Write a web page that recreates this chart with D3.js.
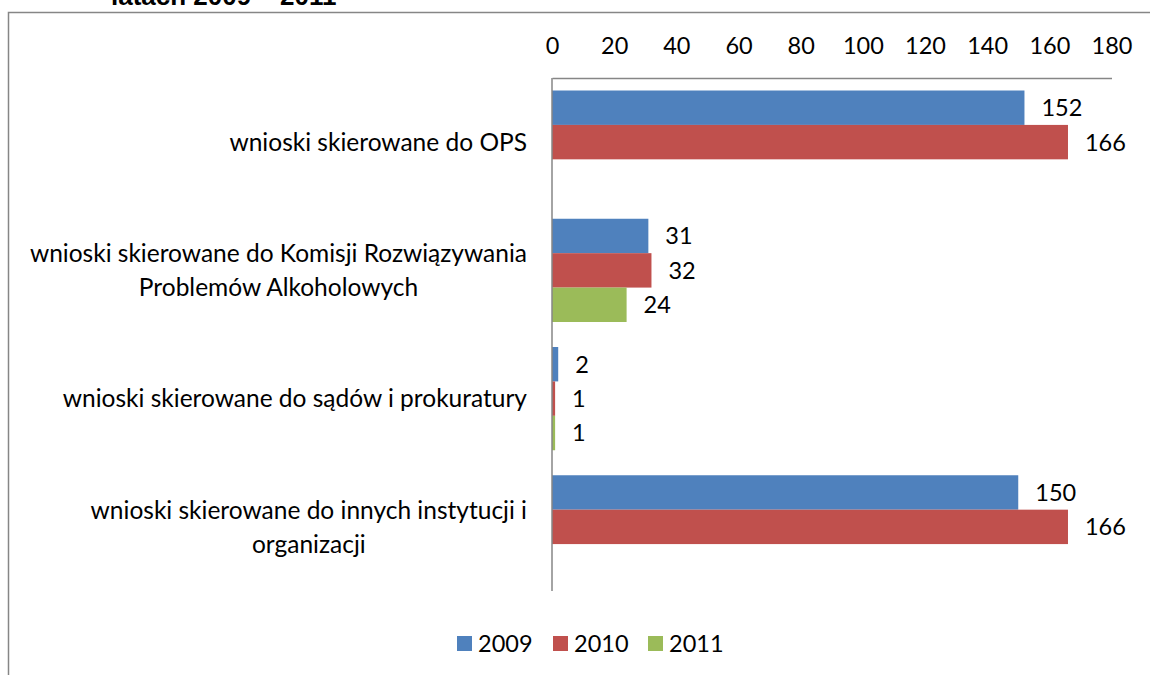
<!doctype html>
<html>
  <head>
    <meta charset="utf-8">
    <script src="https://cdnjs.cloudflare.com/ajax/libs/d3/7.8.5/d3.min.js"></script>
    <style>
      body { margin: 0; background: #fff; overflow: hidden; }
      svg { display: block; }
      text { font-family: Lato, "Noto Sans", sans-serif; fill: #000; }
      .title { font-family: "Liberation Sans", Arial, sans-serif; font-weight: bold; }
      .axis path.domain { stroke: #868686; stroke-width: 1.5; }
      .axis line { display: none; }
    </style>
  </head>
  <body>
    <svg width="1150" height="675"></svg>
    <script>
      // categories, lines split by "|"
      var categories = [
        "wnioski skierowane do OPS",
        "wnioski skierowane do Komisji Rozwiązywania|Problemów Alkoholowych",
        "wnioski skierowane do sądów i prokuratury",
        "wnioski skierowane do innych instytucji i|organizacji"
      ];
      var years = ["2009", "2010", "2011"];
      var values2009 = [152, 31, 2, 150];
      var values2010 = [166, 32, 1, 166];
      var values2011 = [null, 24, 1, null];
      var xTicks = [0, 20, 40, 60, 80, 100, 120, 140, 160, 180];
      var colors = ["#4F81BD", "#C0504D", "#9BBB59"];

      var seriesValues = [values2009, values2010, values2011];
      var fontSize = 23.5;
      var labelFontSize = 24.5;

      var svg = d3.select("svg");

      // chart frame, only top and left edges are inside the picture
      svg.append("path")
        .attr("d", "M8.5,675V12.5H1150")
        .attr("fill", "none")
        .attr("stroke", "#868686")
        .attr("stroke-width", 1.5);

      svg.append("text")
        .attr("class", "title")
        .attr("x", 111).attr("y", 5)
        .style("font-size", "26px")
        .text("latach 2009 – 2011");

      var x = d3.scaleLinear().domain([0, 180]).range([552, 1111.5]);
      var y = d3.scaleBand().domain(d3.range(categories.length))
        .range([78, 591]).paddingInner(0.195).paddingOuter(0.0975);
      var ySub = d3.scaleBand().domain(d3.range(years.length)).range([0, y.bandwidth()]);

      var xAxis = d3.axisTop(x).tickValues(xTicks).tickSize(0).tickPadding(24);
      svg.append("g")
        .attr("class", "axis")
        .attr("transform", "translate(0,78)")
        .call(xAxis)
        .call(g => g.selectAll("text")
          .style("font-family", "Lato, sans-serif")
          .style("font-size", fontSize + "px")
          .attr("fill", "#000"));

      var groups = svg.append("g").selectAll("g")
        .data(categories)
        .join("g")
          .attr("transform", (d, i) => "translate(0," + y(i) + ")");

      groups.each(function (cat, ci) {
        var g = d3.select(this);
        var bars = years.map((yr, si) => ({ si: si, v: seriesValues[si][ci] }))
          .filter(d => d.v != null);

        g.selectAll("rect")
          .data(bars)
          .join("rect")
            .attr("x", x(0))
            .attr("y", d => ySub(d.si))
            .attr("width", d => x(d.v) - x(0))
            .attr("height", ySub.bandwidth())
            .attr("fill", d => colors[d.si]);

        g.selectAll("text.val")
          .data(bars)
          .join("text")
            .attr("class", "val")
            .attr("x", d => x(d.v) + 17)
            .attr("y", d => ySub(d.si) + ySub.bandwidth() / 2)
            .attr("dy", "0.36em")
            .style("font-size", fontSize + "px")
            .text(d => d.v);

        // category label, lines centred on each other, block ends 25px left of axis
        var lines = cat.split("|");
        var label = g.append("text")
          .style("font-size", labelFontSize + "px")
          .attr("text-anchor", "middle");
        var lineH = 34;
        var cy = y.bandwidth() / 2;
        lines.forEach((ln, li) => {
          label.append("tspan")
            .attr("y", cy + (li - (lines.length - 1) / 2) * lineH)
            .attr("dy", "0.36em")
            .text(ln);
        });
        var maxW = d3.max(label.selectAll("tspan").nodes(), n => n.getComputedTextLength());
        label.selectAll("tspan").attr("x", x(0) - 25 - maxW / 2);
      });

      // value axis line (vertical)
      svg.append("line")
        .attr("x1", x(0)).attr("x2", x(0))
        .attr("y1", 78).attr("y2", 591)
        .attr("stroke", "#868686")
        .attr("stroke-width", 1.5);

      // legend
      var legendX = [457, 553, 648];
      var legend = svg.append("g").selectAll("g")
        .data(years)
        .join("g")
          .attr("transform", (d, i) => "translate(" + legendX[i] + ",636)");
      legend.append("rect")
        .attr("width", 15).attr("height", 15)
        .attr("fill", (d, i) => colors[i]);
      legend.append("text")
        .attr("x", 21).attr("y", 7.5)
        .attr("dy", "0.36em")
        .style("font-size", fontSize + "px")
        .text(d => d);
    </script>
  </body>
</html>
